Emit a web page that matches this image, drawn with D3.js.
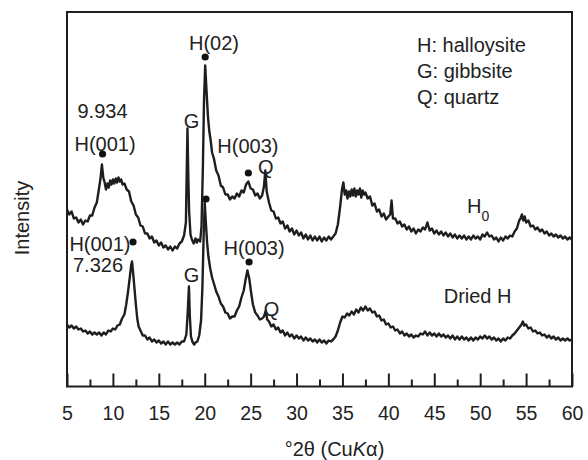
<!DOCTYPE html>
<html>
<head>
<meta charset="utf-8">
<script src="https://cdn.jsdelivr.net/npm/d3@7"></script>
<style>
  html, body { margin: 0; padding: 0; background: #fff; }
  svg { display: block; font-family: "Liberation Sans", Arial, sans-serif; }
</style>
</head>
<body>
<svg id="chart" width="588" height="460"></svg>
<script>
// ---- Data (2θ in degrees, intensity in arbitrary units) ----
const xTicks = [5, 10, 15, 20, 25, 30, 35, 40, 45, 50, 55, 60];
const xMinorTicks = [7.5, 12.5, 17.5, 22.5, 27.5, 32.5, 37.5, 42.5, 47.5, 52.5, 57.5];
const xDomain = [5, 60];
const yDomain = [0, 374.5];

// H0 pattern (upper trace)
const h0Pattern = [[5.00,177],[5.25,172],[5.50,175],[5.75,168],[6.00,169],[6.25,164],[6.50,167],[6.75,162],[7.00,166],[7.25,165],[7.50,171],[7.75,171],[8.00,179],[8.25,184],[8.50,199],[8.65,208],[8.80,222],[8.95,209],[9.10,204],[9.25,197],[9.40,203],[9.55,199],[9.70,206],[9.85,202],[10.00,207],[10.15,203],[10.30,208],[10.45,204],[10.60,209],[10.75,205],[10.90,207],[11.05,202],[11.25,203],[11.50,197],[11.75,195],[12.00,185],[12.25,181],[12.50,172],[12.75,169],[13.00,161],[13.25,160],[13.50,153],[13.75,153],[14.00,148],[14.25,150],[14.50,144],[14.75,146],[15.00,141],[15.25,144],[15.50,139],[15.75,141],[16.00,137],[16.25,140],[16.50,136],[16.75,140],[17.00,138],[17.25,143],[17.50,145],[17.75,151],[17.95,164],[18.03,210],[18.12,258],[18.20,215],[18.30,175],[18.45,152],[18.60,147],[18.80,143],[19.00,148],[19.15,144],[19.30,147],[19.50,145],[19.65,160],[19.80,220],[19.92,285],[20.05,321],[20.20,295],[20.35,270],[20.50,255],[20.65,246],[20.80,234],[21.00,228],[21.25,216],[21.50,211],[21.75,201],[22.00,199],[22.25,192],[22.50,192],[22.75,187],[23.00,190],[23.25,188],[23.50,193],[23.75,190],[24.00,196],[24.25,194],[24.50,202],[24.75,205],[25.00,198],[25.25,197],[25.50,191],[25.75,193],[26.00,188],[26.25,191],[26.45,200],[26.60,216],[26.75,195],[27.00,184],[27.25,176],[27.50,175],[27.75,168],[28.00,169],[28.25,163],[28.50,165],[28.75,158],[29.00,161],[29.25,155],[29.50,158],[29.75,152],[30.00,156],[30.25,151],[30.50,154],[30.75,148],[31.00,152],[31.25,147],[31.50,151],[31.75,146],[32.00,150],[32.25,146],[32.50,150],[32.75,145],[33.00,149],[33.25,146],[33.50,150],[33.75,147],[34.00,150],[34.25,153],[34.50,162],[34.75,180],[34.95,197],[35.10,204],[35.25,192],[35.40,196],[35.55,188],[35.70,195],[35.85,190],[36.00,197],[36.15,191],[36.30,198],[36.45,190],[36.60,196],[36.75,192],[36.90,198],[37.05,189],[37.20,196],[37.35,192],[37.50,194],[37.75,188],[38.00,190],[38.25,181],[38.50,183],[38.75,175],[39.00,177],[39.25,170],[39.50,173],[39.75,167],[40.00,170],[40.20,172],[40.35,186],[40.50,168],[40.75,168],[41.00,163],[41.25,165],[41.50,160],[41.75,162],[42.00,157],[42.25,160],[42.50,155],[42.75,158],[43.00,153],[43.25,157],[43.50,155],[43.75,159],[44.00,157],[44.25,164],[44.50,156],[44.75,158],[45.00,153],[45.25,156],[45.50,152],[45.75,155],[46.00,151],[46.25,154],[46.50,150],[46.75,153],[47.00,149],[47.25,152],[47.50,148],[47.75,151],[48.00,148],[48.25,151],[48.50,147],[48.75,150],[49.00,147],[49.25,151],[49.50,148],[49.75,150],[50.00,147],[50.25,152],[50.50,150],[50.75,154],[51.00,150],[51.25,151],[51.50,147],[51.75,149],[52.00,145],[52.25,149],[52.50,146],[52.75,150],[53.00,148],[53.25,151],[53.50,150],[53.75,155],[54.00,158],[54.25,166],[54.40,168],[54.55,172],[54.70,166],[54.85,170],[55.00,164],[55.25,166],[55.50,160],[55.75,161],[56.00,157],[56.25,159],[56.50,155],[56.75,157],[57.00,153],[57.25,155],[57.50,151],[57.75,153],[58.00,150],[58.25,152],[58.50,149],[58.75,151],[59.00,148],[59.25,150],[59.50,147],[59.75,149],[60.00,147]];

// Dried H pattern (lower trace)
const driedPattern = [[5.00,62],[5.25,59],[5.50,61],[5.75,58],[6.00,60],[6.25,57],[6.50,58],[6.75,55],[7.00,56],[7.25,53],[7.50,55],[7.75,52],[8.00,54],[8.25,52],[8.50,54],[8.75,51],[9.00,54],[9.25,52],[9.50,56],[9.75,55],[10.00,58],[10.25,57],[10.50,61],[10.75,62],[11.00,68],[11.25,72],[11.45,82],[11.65,95],[11.85,110],[12.00,122],[12.08,125],[12.20,114],[12.35,98],[12.50,82],[12.65,68],[12.80,60],[13.00,56],[13.25,51],[13.50,51],[13.75,47],[14.00,49],[14.25,45],[14.50,47],[14.75,44],[15.00,46],[15.25,43],[15.50,45],[15.75,42],[16.00,45],[16.25,42],[16.50,44],[16.75,42],[17.00,44],[17.25,42],[17.50,45],[17.75,45],[18.00,52],[18.15,75],[18.28,100],[18.38,70],[18.50,50],[18.65,45],[18.85,42],[19.00,44],[19.20,45],[19.40,51],[19.60,66],[19.75,100],[19.88,150],[20.00,184],[20.12,165],[20.25,145],[20.40,130],[20.60,118],[20.80,109],[21.00,103],[21.25,95],[21.50,90],[21.75,83],[22.00,80],[22.25,74],[22.50,73],[22.75,68],[23.00,70],[23.25,70],[23.50,76],[23.75,80],[24.00,89],[24.25,96],[24.45,107],[24.65,116],[24.85,108],[25.05,94],[25.25,82],[25.50,74],[25.75,71],[26.00,67],[26.25,68],[26.45,70],[26.65,76],[26.80,67],[27.00,65],[27.25,60],[27.50,62],[27.75,57],[28.00,59],[28.25,54],[28.50,56],[28.75,51],[29.00,54],[29.25,50],[29.50,52],[29.75,48],[30.00,51],[30.25,48],[30.50,50],[30.75,46],[31.00,49],[31.25,46],[31.50,48],[31.75,45],[32.00,47],[32.25,44],[32.50,47],[32.75,44],[33.00,46],[33.25,43],[33.50,46],[33.75,45],[34.00,47],[34.25,50],[34.50,56],[34.75,64],[35.00,70],[35.25,69],[35.50,73],[35.75,71],[36.00,75],[36.25,72],[36.50,77],[36.75,74],[37.00,79],[37.25,76],[37.50,80],[37.75,76],[38.00,78],[38.25,74],[38.50,75],[38.75,70],[39.00,71],[39.25,66],[39.50,67],[39.75,62],[40.00,63],[40.25,59],[40.50,60],[40.75,56],[41.00,57],[41.25,53],[41.50,55],[41.75,51],[42.00,53],[42.25,50],[42.50,52],[42.75,49],[43.00,51],[43.25,50],[43.50,53],[43.75,52],[44.00,55],[44.25,51],[44.50,54],[44.75,51],[45.00,53],[45.25,50],[45.50,53],[45.75,50],[46.00,52],[46.25,49],[46.50,51],[46.75,48],[47.00,51],[47.25,47],[47.50,50],[47.75,47],[48.00,50],[48.25,47],[48.50,49],[48.75,46],[49.00,49],[49.25,46],[49.50,49],[49.75,47],[50.00,50],[50.25,48],[50.50,51],[50.75,48],[51.00,50],[51.25,47],[51.50,49],[51.75,46],[52.00,48],[52.25,45],[52.50,48],[52.75,46],[53.00,49],[53.25,48],[53.50,51],[53.75,53],[54.00,56],[54.25,59],[54.50,62],[54.65,65],[54.80,61],[55.00,62],[55.25,58],[55.50,59],[55.75,55],[56.00,56],[56.25,53],[56.50,54],[56.75,51],[57.00,52],[57.25,49],[57.50,51],[57.75,48],[58.00,50],[58.25,47],[58.50,49],[58.75,46],[59.00,48],[59.25,46],[59.50,48],[59.75,46],[60.00,47]];

// Peak markers (2θ, intensity)
const peakMarkers = [[8.87,232.5],[20.05,329.5],[24.75,213.5],[12.19,144.5],[20.14,187.5],[24.83,124.5]];

// Peak labels: text, 2θ (centre), intensity (baseline)
const peakLabels = [
  ["9.934", 8.87, 268.5],
  ["H(001)", 9.14, 235.5],
  ["G", 18.56, 258.5],
  ["H(02)", 21.01, 337],
  ["H(003)", 24.70, 234],
  ["Q", 26.66, 212.5],
  ["H(001)", 8.59, 135.5],
  ["7.326", 8.38, 114.5],
  ["G", 18.56, 104.5],
  ["H(003)", 25.37, 131.5],
  ["Q", 27.28, 70.5],
  ["Dried H", 49.72, 83.5]
];
const legendLines = ["H: halloysite", "G: gibbsite", "Q: quartz"];

// ---- Layout ----
const svg = d3.select("#chart");
const plotL = 67, plotR = 572, plotT = 12, plotB = 386.5;
const x = d3.scaleLinear().domain(xDomain).range([plotL, plotR]);
const y = d3.scaleLinear().domain(yDomain).range([plotB, plotT]);
const ink = "#1e1e1e";

// Traces
const line = d3.line().x(d => x(d[0])).y(d => y(d[1]));
[h0Pattern, driedPattern].forEach(s => {
  svg.append("path").attr("d", line(s)).attr("fill", "none")
    .attr("stroke", ink).attr("stroke-width", 2.4).attr("stroke-linejoin", "round");
});

// Frame
svg.append("rect").attr("x", plotL).attr("y", plotT)
  .attr("width", plotR - plotL).attr("height", plotB - plotT)
  .attr("fill", "none").attr("stroke", ink).attr("stroke-width", 2);

// Bottom axis: ticks inward
const axis = d3.axisBottom(x).tickValues(xTicks).tickSizeInner(-13).tickSizeOuter(0).tickPadding(20);
const gx = svg.append("g").attr("transform", `translate(0,${plotB})`).call(axis);
gx.select(".domain").remove();
gx.selectAll(".tick line").attr("stroke", ink).attr("stroke-width", 2);
gx.selectAll(".tick text").attr("fill", "#222").attr("font-size", 19.5)
  .attr("font-family", '"Liberation Sans", Arial, sans-serif');
const minorAxis = d3.axisBottom(x).tickValues(xMinorTicks).tickSizeInner(-7).tickSizeOuter(0).tickFormat("");
const gm = svg.append("g").attr("transform", `translate(0,${plotB})`).call(minorAxis);
gm.select(".domain").remove();
gm.selectAll(".tick line").attr("stroke", ink).attr("stroke-width", 2);

// Axis titles
const xt = svg.append("text").attr("x", (x(xDomain[0]) + x(xDomain[1])) / 2 + 15).attr("y", 456)
  .attr("text-anchor", "middle").attr("font-size", 20).attr("fill", "#222");
xt.append("tspan").text("°2θ (Cu");
xt.append("tspan").attr("font-style", "italic").text("K");
xt.append("tspan").text("α)");

svg.append("text").attr("transform", "translate(29,218) rotate(-90)")
  .attr("text-anchor", "middle").attr("font-size", 20).attr("fill", "#222").text("Intensity");

// Peak markers
svg.selectAll("circle.pk").data(peakMarkers).join("circle").attr("class", "pk")
  .attr("cx", d => x(d[0])).attr("cy", d => y(d[1])).attr("r", 3.6).attr("fill", "#111");

// Peak labels
svg.selectAll("text.lbl").data(peakLabels).join("text").attr("class", "lbl")
  .attr("x", d => x(d[1])).attr("y", d => y(d[2]))
  .attr("text-anchor", "middle").attr("font-size", 20).attr("fill", "#222").text(d => d[0]);

// H0 label with subscript
const h0 = svg.append("text").attr("x", x(48.57)).attr("y", y(173.5))
  .attr("font-size", 20).attr("fill", "#222");
h0.append("tspan").text("H");
h0.append("tspan").attr("font-size", 14).attr("dy", 8).text("0");

// Legend
svg.selectAll("text.leg").data(legendLines).join("text").attr("class", "leg")
  .attr("x", 417).attr("y", (d, i) => 52 + i * 26)
  .attr("font-size", 20).attr("fill", "#222").text(d => d);
</script>
</body>
</html>
